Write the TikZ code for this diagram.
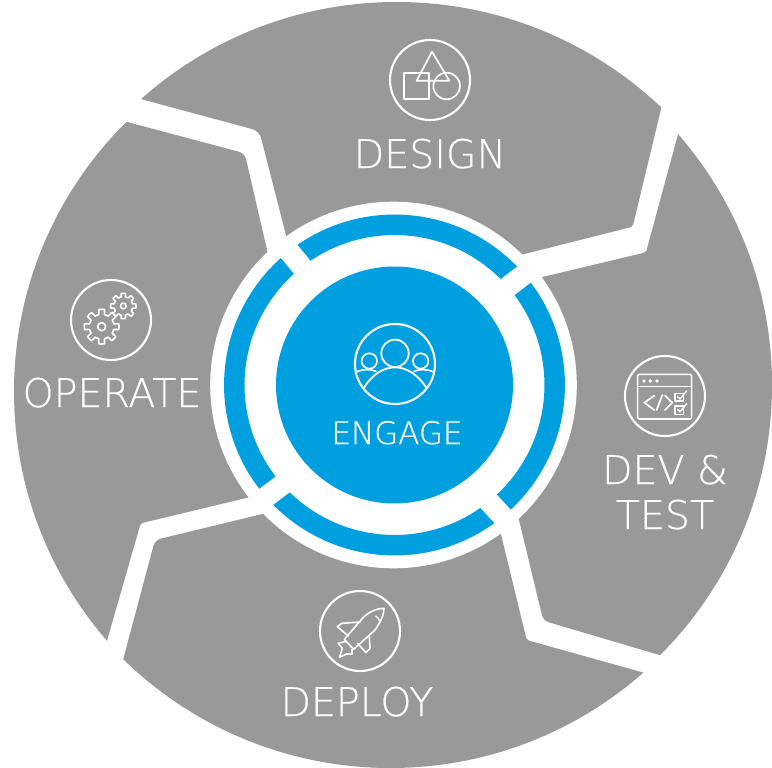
\documentclass[tikz,border=0pt]{standalone}
\usepackage{fontspec}
\setmainfont{DejaVu Sans ExtraLight}[FakeBold=0.45]
\usetikzlibrary{calc}
\definecolor{segrey}{RGB}{153,153,153}
\definecolor{engblue}{RGB}{0,160,224}
\tikzset{
  segment/.style={fill=segrey},
  gapline/.style={draw=white,line width=21pt},
  ringline/.style={draw=engblue,line width=20.5pt},
  icon/.style={draw=white,line width=2.1pt,line join=round,line cap=round},
  biglabel/.style={text=white,anchor=base,inner sep=0pt,font=\fontsize{39.5}{39.5}\selectfont},
  smalllabel/.style={text=white,anchor=base,inner sep=0pt,font=\fontsize{31}{31}\selectfont},
}
\newcommand{\gearicon}[5]{% cx cy outer root hub
  \draw[icon,line width=1.6pt] plot[samples=193,domain=0:360,smooth cycle]
    ({#1+(#4+(#3-#4)*max(0,min(1,2.2*cos(8*\x)+0.5)))*cos(\x)},{#2+(#4+(#3-#4)*max(0,min(1,2.2*cos(8*\x)+0.5)))*sin(\x)});
  \draw[icon,line width=1.6pt] (#1,#2) circle[radius=#5pt];
}
\begin{document}
\begin{tikzpicture}[x=1pt,y=-1pt]
\useasboundingbox (0,0) rectangle (772,768);
\fill[white] (0,0) rectangle (772,768);
% design
\begin{scope}
  \clip (396.6,387) circle[radius=385pt];
  \fill[segment] (111,91) [rounded corners=7pt] -- (259.3,131) [rounded corners=0pt] -- (289,247) -- (394,385) -- (512,257) -- (523.3,254.3) [rounded corners=3pt] -- (632.7,226.7) [rounded corners=0pt] -- (668,80) -- (668,-20) -- (111,-20) -- cycle;
\end{scope}
% dev and test
\begin{scope}
  \clip (390,385) circle[radius=382pt];
  \fill[segment] (686,105) [rounded corners=2pt] -- (646,252.3) [rounded corners=0pt] -- (530,280) -- (394,385) -- (516,510) -- (519,520) [rounded corners=5pt] -- (543.3,620.7) [rounded corners=0pt] -- (690,664) -- (800,664) -- (800,105) -- cycle;
\end{scope}
% deploy
\begin{scope}
  \clip (390.5,385.3) circle[radius=382.7pt];
  \fill[segment] (670,680) [rounded corners=2pt] -- (526.7,640) [rounded corners=0pt] -- (498,522) -- (394,385) -- (262.3,514) [rounded corners=6pt] -- (155,540) [rounded corners=0pt] -- (115,690) -- (115,800) -- (670,800) -- cycle;
\end{scope}
% operate
\begin{scope}
  \clip (394,391.7) circle[radius=380pt];
  \fill[segment] (100,665) [rounded corners=2pt] -- (140.7,523.3) [rounded corners=0pt] -- (247.7,497.7) -- (258,495) -- (394,385) -- (270,262) -- (267.3,251) [rounded corners=6pt] -- (244.7,153.3) [rounded corners=0pt] -- (100,114.7) -- (-20,114.7) -- (-20,665) -- cycle;
\end{scope}
% hub
\fill[white] (393.5,385) circle[radius=183.3pt];
\draw[ringline] (394.5,385) circle[radius=160.2pt];
\draw[gapline] (287.6,249.6) -- (304.4,269.9);
\draw[gapline] (525.1,273.6) -- (503.4,290.4);
\draw[gapline] (503.3,517.2) -- (485.8,498.1);
\draw[gapline] (264.4,498.2) -- (284.9,482.8);
\node[circle,fill=engblue,minimum size=237pt,inner sep=0pt] (hubdisk) at (394.5,385) {};
% labels
\node[biglabel] (design) at (430,168) {DESIGN};
\node[biglabel] (operate) at (112,407) {OPERATE};
\node[biglabel] (devone) at (665,484) {DEV \&};
\node[biglabel] (devtwo) at (665,529) {TEST};
\node[biglabel] (deploy) at (357,716) {DEPLOY};
\node[smalllabel] (engage) at (397,444) {ENGAGE};
% icon rings
\draw[icon] (430,80) circle[radius=40pt];
\draw[icon] (665,396) circle[radius=40pt];
\draw[icon] (360,631) circle[radius=40pt];
\draw[icon] (111,320) circle[radius=40pt];
\draw[icon] (395,364) circle[radius=40pt];
% design icon
\begin{scope}[shift={(380,30)},x=0.3333pt,y=-0.3333pt]
  \draw[icon,line width=1.7pt] (156,65) -- (110,152) -- (208,152) -- cycle;
  \draw[icon,line width=1.7pt] (72,130) rectangle (148,207);
  \draw[icon,line width=1.7pt] (200,168) circle[radius=13.3pt];
\end{scope}
% dev icon
\begin{scope}[shift={(615,345)},x=0.3333pt,y=-0.3333pt]
  \draw[icon,line width=1.6pt,rounded corners=1.5pt] (68,88) rectangle (230,222);
  \draw[icon,line width=1.6pt] (68,125) -- (230,125);
  \foreach \dx in {87,106,126} \fill[white] (\dx,108) circle[radius=1.9pt];
  \draw[icon,line width=1.7pt] (118,152) -- (88,173) -- (118,195);
  \draw[icon,line width=1.7pt] (125,195) -- (142,150);
  \draw[icon,line width=1.7pt] (150,152) -- (172,173) -- (150,195);
  \draw[icon,line width=1.3pt] (180,145) rectangle (205,168);
  \draw[icon,line width=1.3pt] (180,183) rectangle (205,208);
  \draw[icon,line width=1.4pt] (188,155) -- (195,162) -- (215,138);
  \draw[icon,line width=1.4pt] (188,193) -- (195,200) -- (215,176);
\end{scope}
% rocket icon
\begin{scope}[shift={(310,580)},x=0.3333pt,y=-0.3333pt]
  \draw[icon,line width=1.6pt] (103,178) -- (160,112) .. controls (185,90) and (205,85) .. (222,85) .. controls (222,105) and (212,125) .. (195,150) -- (131,208) -- cycle;
  \draw[icon,line width=1.6pt] (150,126) -- (95,130) -- (82,140) -- (115,168);
  \draw[icon,line width=1.6pt] (178,166) -- (180,205) -- (168,218) -- (143,190);
  \draw[icon,line width=1.6pt] (108,184) -- (85,190) -- (97,205) -- (88,232) -- (110,222) -- (126,222) -- (126,208);
  \draw[icon,line width=1.2pt] (197,108) .. controls (203,111) and (207,116) .. (208,122);
\end{scope}
% gears icon
\begin{scope}[shift={(60,270)},x=0.3333pt,y=-0.3333pt]
  \gearicon{125}{170}{52}{37}{4}
  \gearicon{190}{108}{38}{28}{2.8}
\end{scope}
% people icon
\begin{scope}[shift={(340,310)},x=0.3333pt,y=-0.3333pt]
  \draw[icon,line width=1.8pt] (165,130) circle[radius=13.7pt];
  \draw[icon,line width=1.7pt] (88,153) circle[radius=7.7pt];
  \draw[icon,line width=1.7pt] (242,153) circle[radius=7.7pt];
  \draw[icon,line width=1.8pt] (73,232) .. controls (95,195) and (130,172) .. (165,172) .. controls (200,172) and (235,195) .. (258,232);
  \draw[icon,line width=1.6pt] (50,185) .. controls (68,178) and (90,176) .. (108,184);
  \draw[icon,line width=1.6pt] (222,184) .. controls (240,176) and (262,178) .. (280,185);
\end{scope}
\end{tikzpicture}
\end{document}
